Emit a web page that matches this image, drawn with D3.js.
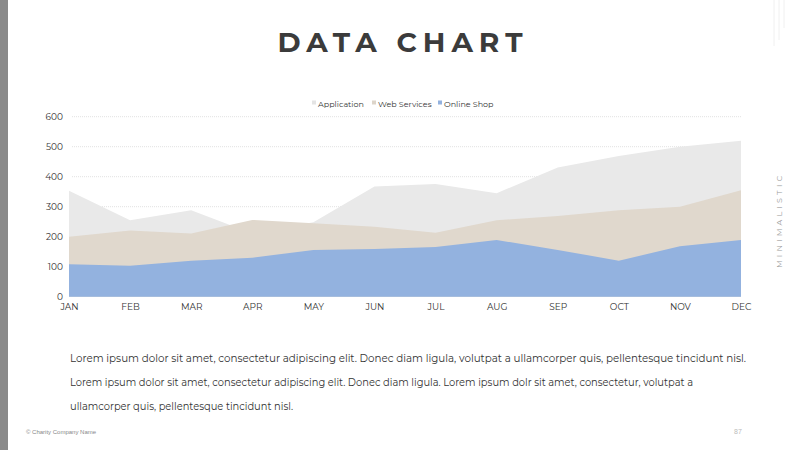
<!DOCTYPE html>
<html lang="en">
<head>
  <meta charset="UTF-8">
  <title></title>
  <style>
    html, body {
      margin: 0;
      overflow: hidden;
      width: 100%;
      height: 100%;
      background: white;
    }
    svg {
      position: absolute;
      top: 0;
      left: 0;
      width: 800px;
      height: 450px;
      font-family: Montserrat, 'Open Sans', 'DejaVu Sans', sans-serif;
    }
  </style>
</head>
<body>
  <svg></svg>
</body>
<script src="https://d3js.org/d3.v7.min.js"></script>
<script type="text/javascript">
  const months = ['JAN', 'FEB', 'MAR', 'APR', 'MAY', 'JUN', 'JUL', 'AUG', 'SEP', 'OCT', 'NOV', 'DEC']
  const application = [353, 255, 288, 211, 248, 367, 376, 345, 431, 469, 500, 520]
  const webServices = [200, 221, 211, 256, 245, 233, 213, 255, 269, 288, 300, 355]
  const onlineShop = [108, 103, 120, 130, 156, 159, 166, 189, 156, 120, 168, 189]
  const yTicks = [0, 100, 200, 300, 400, 500, 600]

  const seriesNames = ['Application', 'Web Services', 'Online Shop']
  const seriesValues = [application, webServices, onlineShop]
  const colors = ['#e9e9e9', '#e0d8cd', '#93b2df']

  const svg = d3.select('svg')

  // left grey strip
  svg.append('rect')
    .attr('x', 0).attr('y', 0)
    .attr('width', 8).attr('height', 450)
    .attr('fill', '#8a8a8a')

  // faint lines top right
  ;[[774, 46], [779, 40], [784, 28]].forEach(d => {
    svg.append('line')
      .attr('x1', d[0]).attr('x2', d[0])
      .attr('y1', 0).attr('y2', d[1])
      .attr('stroke', '#f0f0f0')
  })

  // title
  svg.append('text')
    .attr('x', 403)
    .attr('y', 52)
    .attr('text-anchor', 'middle')
    .attr('font-size', 28)
    .attr('font-weight', 'bold')
    .attr('letter-spacing', 6)
    .attr('fill', '#3b3b3b')
    .text('DATA CHART')

  const x = d3.scalePoint()
    .domain(months)
    .range([69, 741])

  const y = d3.scaleLinear()
    .domain([0, 600])
    .range([296.7, 116.7])

  // grid
  svg.append('g')
    .selectAll('line')
    .data(yTicks.filter(t => t > 0))
    .enter()
    .append('line')
    .attr('x1', 72)
    .attr('x2', 741)
    .attr('y1', t => y(t))
    .attr('y2', t => y(t))
    .attr('stroke', '#e2e2e2')
    .attr('stroke-dasharray', '1,1')

  // areas, drawn over each other (not stacked)
  const area = d3.area()
    .x((v, i) => x(months[i]))
    .y0(y(0))
    .y1(v => y(v))

  svg.append('g')
    .selectAll('path')
    .data(seriesValues)
    .enter()
    .append('path')
    .attr('d', area)
    .attr('fill', (d, i) => colors[i])

  // y axis
  const yAxis = svg.append('g')
    .attr('transform', 'translate(63,0)')
    .call(d3.axisLeft(y).tickValues(yTicks).tickSize(0).tickPadding(0))
  yAxis.select('.domain').remove()
  yAxis.selectAll('text')
    .attr('font-family', 'Montserrat, "Open Sans", sans-serif')
    .attr('font-size', 9)
    .attr('fill', '#333')

  // x axis
  const xAxis = svg.append('g')
    .attr('transform', 'translate(0,' + 301 + ')')
    .call(d3.axisBottom(x).tickSize(0).tickPadding(3))
  xAxis.select('.domain').remove()
  xAxis.selectAll('text')
    .attr('font-family', 'Montserrat, "Open Sans", sans-serif')
    .attr('font-size', 9)
    .attr('fill', '#333')

  // legend
  const legendX = [312, 372, 438]
  const legend = svg.append('g')
    .selectAll('g')
    .data(seriesNames)
    .enter()
    .append('g')
    .attr('transform', (d, i) => 'translate(' + legendX[i] + ',104)')
  legend.append('rect')
    .attr('x', 0).attr('y', -3.5)
    .attr('width', 4).attr('height', 4)
    .attr('fill', (d, i) => i === 2 ? colors[2] : (i === 0 ? '#e4e4e4' : '#ddd5ca'))
  legend.append('text')
    .attr('x', 6)
    .attr('y', 3)
    .attr('font-size', 8)
    .attr('fill', '#333')
    .text(d => d)

  // side label
  svg.append('text')
    .attr('transform', 'translate(782,268) rotate(-90)')
    .attr('font-size', 8)
    .attr('letter-spacing', 3.2)
    .attr('fill', '#999')
    .text('MINIMALISTIC')

  // paragraph
  const lines = [
    'Lorem ipsum dolor sit amet, consectetur adipiscing elit. Donec diam ligula, volutpat a ullamcorper quis, pellentesque tincidunt nisl.',
    'Lorem ipsum dolor sit amet, consectetur adipiscing elit. Donec diam ligula. Lorem ipsum dolr sit amet, consectetur, volutpat a',
    'ullamcorper quis, pellentesque tincidunt nisl.'
  ]
  svg.append('g')
    .selectAll('text')
    .data(lines)
    .enter()
    .append('text')
    .attr('x', 70)
    .attr('y', (d, i) => 362 + i * 24)
    .attr('font-size', 10.4)
    .attr('fill', '#333')
    .attr('textLength', (d, i) => [676, 623, 223][i])
    .attr('lengthAdjust', 'spacingAndGlyphs')
    .text(d => d)

  // footer
  svg.append('text')
    .attr('x', 26).attr('y', 434)
    .attr('font-family', 'Liberation Sans, sans-serif')
    .attr('font-size', 6)
    .attr('fill', '#888')
    .text('© Charity Company Name')
  svg.append('text')
    .attr('x', 734).attr('y', 434)
    .attr('font-family', 'Liberation Sans, sans-serif')
    .attr('font-size', 7)
    .attr('fill', '#bbb')
    .text('87')
</script>
</html>
